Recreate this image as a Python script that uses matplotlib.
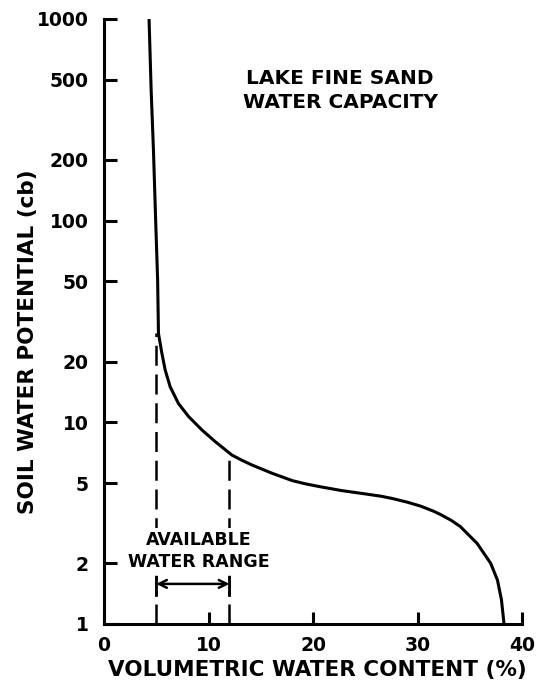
import numpy as np
import matplotlib.pyplot as plt

plt.rcParams['font.family'] = ['DejaVu Sans']
plt.rcParams['font.weight'] = 'bold'

# retention curve
water_content = [4.31, 4.51, 4.73, 4.94, 5.13, 5.21, 5.53, 5.85, 6.33, 7.12,
                 8.08, 9.37, 10.64, 12.24, 13.2, 14.16, 16.08, 18.0, 19.3,
                 20.7, 22.8, 24.8, 26.5, 27.5, 29.0, 30.3, 31.5, 32.2, 33.2,
                 34.1, 35.7, 37.0, 37.65, 38.03, 38.28]
potential = [1000, 444, 224, 101, 50.8, 27.6, 22.1, 18.2, 15.0, 12.4,
             10.7, 9.16, 8.02, 6.88, 6.48, 6.14, 5.59, 5.14, 4.95,
             4.79, 4.58, 4.43, 4.3, 4.2, 4.02, 3.84, 3.63, 3.49, 3.27,
             3.04, 2.51, 2.0, 1.65, 1.32, 1.0]

range_x = [5, 12]
range_top = [27.6, 6.9]
arrow_y = 1.58
bar_lo, bar_hi = 1.39, 1.71

y_ticks = [1, 2, 5, 10, 20, 50, 100, 200, 500, 1000]
x_ticks = [0, 10, 20, 30, 40]

fig = plt.figure(figsize=(5.37, 6.85), dpi=100)
ax = fig.add_axes([0.1937, 0.0891, 0.7784, 0.8832])

ax.plot(water_content, potential, color='black', lw=2.2,
        solid_joinstyle='round', solid_capstyle='butt')

for xv, top in zip(range_x, range_top):
    ax.plot([xv, xv], [1, top], color='black', lw=1.8, dashes=(8, 3.5))
    ax.plot([xv, xv], [bar_lo, bar_hi], color='black', lw=2, zorder=6)

ax.annotate('', xy=(range_x[1], arrow_y), xytext=(range_x[0], arrow_y),
            arrowprops=dict(arrowstyle='<->', color='black', lw=1.8,
                            shrinkA=0, shrinkB=0, mutation_scale=14), zorder=6)
# white band hides the dashes behind the arrow, like the original
ax.fill_between(range_x, 1.47, 1.66, color='white', zorder=3)

txt_box = dict(facecolor='white', edgecolor='none', pad=2)
ax.text(9.1, 2.61, 'AVAILABLE', ha='center', va='center', fontsize=12.5,
        bbox=txt_box, zorder=5)
ax.text(9.1, 2.04, 'WATER RANGE', ha='center', va='center', fontsize=12.5,
        bbox=txt_box, zorder=5)

ax.text(22.6, 509, 'LAKE FINE SAND', ha='center', va='center', fontsize=14.5)
ax.text(22.6, 387, 'WATER CAPACITY', ha='center', va='center', fontsize=14.5)

ax.set_yscale('log')
ax.set_xlim(0, 40)
ax.set_ylim(1, 1000)
ax.set_yticks(y_ticks)
ax.set_yticklabels([str(t) for t in y_ticks])
ax.yaxis.set_minor_locator(plt.NullLocator())
ax.set_xticks(x_ticks)

for side in ['top', 'right']:
    ax.spines[side].set_visible(False)
for side in ['left', 'bottom']:
    ax.spines[side].set_linewidth(2.2)

ax.tick_params(direction='in', length=9, width=2.2, labelsize=13.5, pad=11)
ax.tick_params(axis='x', pad=9)

ax.set_xlabel('VOLUMETRIC WATER CONTENT (%)', fontsize=15.5, fontweight='bold')
ax.set_ylabel('SOIL WATER POTENTIAL (cb)', fontsize=15.5, fontweight='bold')
ax.xaxis.set_label_coords(0.51, -0.06)
ax.yaxis.set_label_coords(-0.158, 0.466)

fig.savefig('out.png', dpi=100)
